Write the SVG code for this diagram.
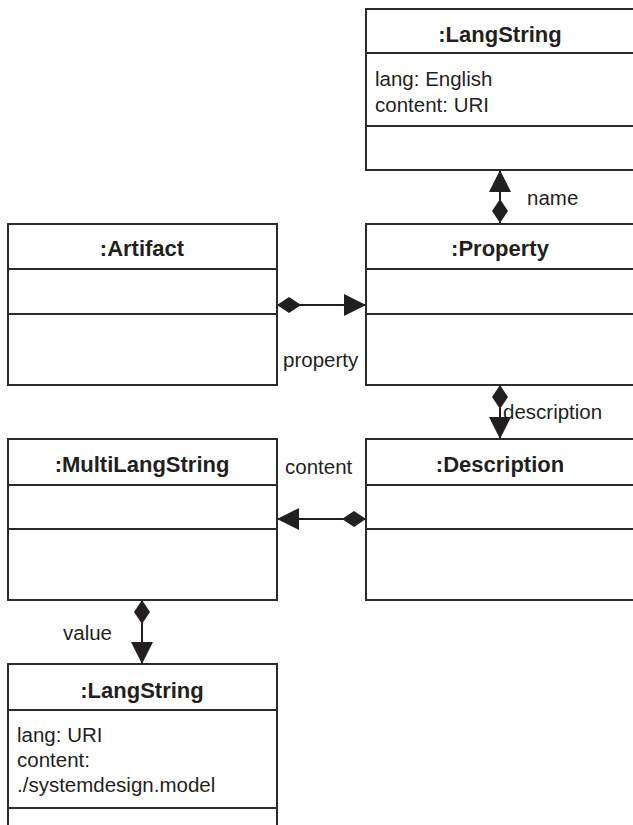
<svg xmlns="http://www.w3.org/2000/svg" width="633" height="825" viewBox="0 0 633 825">
<style>
.box{fill:#fff;stroke:#2b2b2b;stroke-width:2}
.div{stroke:#2b2b2b;stroke-width:2}
.title{font-family:"Liberation Sans",Arial,sans-serif;font-size:22px;font-weight:bold;fill:#231f20;text-anchor:middle}
.attr{font-family:"Liberation Sans",Arial,sans-serif;font-size:20.5px;fill:#231f20}
.lbl{font-family:"Liberation Sans",Arial,sans-serif;font-size:20.5px;fill:#231f20}
.conn{stroke:#231f20;stroke-width:2;fill:none;marker-start:url(#diamond);marker-end:url(#arrow)}
</style>
<defs>
<marker id="arrow" markerUnits="userSpaceOnUse" viewBox="0 0 22 22" refX="22" refY="11" markerWidth="22" markerHeight="22" orient="auto">
<path d="M0,0 L22,11 L0,22 Z" fill="#231f20"/>
</marker>
<marker id="diamond" markerUnits="userSpaceOnUse" viewBox="0 0 24 16" refX="0" refY="8" markerWidth="24" markerHeight="16" orient="auto">
<path d="M0,8 L12,0 L24,8 L12,16 Z" fill="#231f20"/>
</marker>
</defs>
<g id="langstring-top">
<rect class="box" x="366" y="9" width="270" height="161"/>
<line class="div" x1="366" y1="53" x2="636" y2="53"/>
<line class="div" x1="366" y1="126" x2="636" y2="126"/>
<text class="title" x="500" y="42">:LangString</text>
<text class="attr" x="375" y="86">lang: English</text>
<text class="attr" x="375" y="112">content: URI</text>
</g>
<g id="artifact">
<rect class="box" x="8" y="224" width="269" height="161"/>
<line class="div" x1="8" y1="269" x2="277" y2="269"/>
<line class="div" x1="8" y1="314" x2="277" y2="314"/>
<text class="title" x="142" y="256">:Artifact</text>
</g>
<g id="property">
<rect class="box" x="366" y="224" width="270" height="161"/>
<line class="div" x1="366" y1="269" x2="636" y2="269"/>
<line class="div" x1="366" y1="314" x2="636" y2="314"/>
<text class="title" x="500" y="256">:Property</text>
</g>
<g id="multilangstring">
<rect class="box" x="8" y="439" width="269" height="161"/>
<line class="div" x1="8" y1="485" x2="277" y2="485"/>
<line class="div" x1="8" y1="529" x2="277" y2="529"/>
<text class="title" x="142" y="472">:MultiLangString</text>
</g>
<g id="description">
<rect class="box" x="366" y="439" width="270" height="161"/>
<line class="div" x1="366" y1="485" x2="636" y2="485"/>
<line class="div" x1="366" y1="529" x2="636" y2="529"/>
<text class="title" x="500" y="472">:Description</text>
</g>
<g id="langstring-bottom">
<rect class="box" x="8" y="664" width="269" height="180"/>
<line class="div" x1="8" y1="710" x2="277" y2="710"/>
<line class="div" x1="8" y1="808" x2="277" y2="808"/>
<text class="title" x="142" y="698">:LangString</text>
<text class="attr" x="17" y="742">lang: URI</text>
<text class="attr" x="17" y="767">content:</text>
<text class="attr" x="17" y="792">./systemdesign.model</text>
</g>
<g id="connectors">
<path class="conn" d="M500,223 L500,170"/>
<text class="lbl" x="527" y="205">name</text>
<path class="conn" d="M277,305 L366,305"/>
<text class="lbl" x="283" y="367">property</text>
<path class="conn" d="M500,385 L500,439"/>
<text class="lbl" x="503" y="419">description</text>
<path class="conn" d="M366,519 L277,519"/>
<text class="lbl" x="285" y="474">content</text>
<path class="conn" d="M142,600 L142,664"/>
<text class="lbl" x="63" y="640">value</text>
</g>
</svg>
